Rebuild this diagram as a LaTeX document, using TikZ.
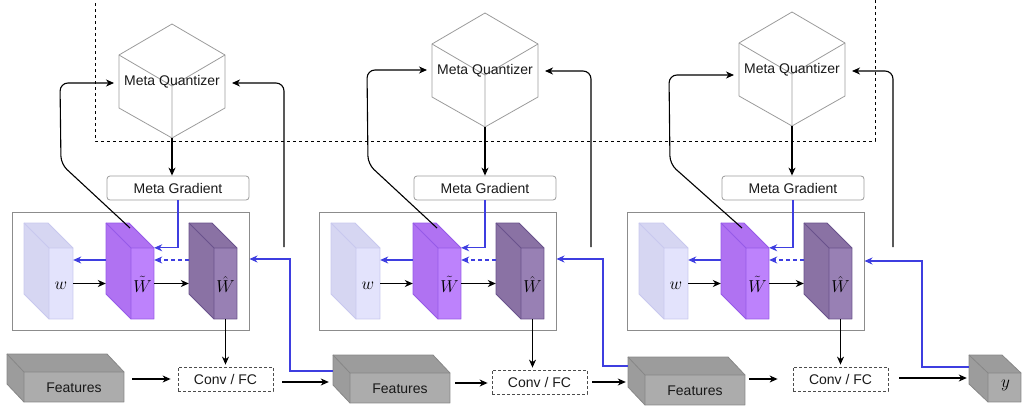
\documentclass[tikz,border=0pt]{standalone}
\usepackage{fontspec}
\setmainfont{Liberation Sans}
\usetikzlibrary{arrows.meta,calc}
\definecolor{wF}{RGB}{227,227,252}
\definecolor{wS}{RGB}{214,214,242}
\definecolor{wB}{RGB}{200,200,238}
\definecolor{wtF}{RGB}{189,130,252}
\definecolor{wtS}{RGB}{176,114,242}
\definecolor{wtB}{RGB}{150,90,232}
\definecolor{whF}{RGB}{152,128,180}
\definecolor{whS}{RGB}{138,114,164}
\definecolor{whB}{RGB}{105,82,140}
\definecolor{feF}{RGB}{172,172,172}
\definecolor{feS}{RGB}{156,156,156}
\definecolor{feB}{RGB}{135,135,135}
\definecolor{myblue}{RGB}{62,62,224}
\definecolor{boxgray}{RGB}{140,140,140}
\definecolor{cubegray}{RGB}{155,155,155}
\newcommand\blockshape[8]{%
  \fill[#8S] (#2-#6,#3-#7) -- (#2+#4-#6,#3-#7) -- (#2+#4,#3) -- (#2,#3) -- (#2,#3+#5) -- (#2-#6,#3+#5-#7) -- cycle;
  \fill[#8F] (#2,#3) rectangle (#2+#4,#3+#5);
  \draw[#8B, line width=0.8pt, line join=round] (#2-#6,#3-#7) -- (#2+#4-#6,#3-#7) -- (#2+#4,#3) -- (#2+#4,#3+#5) -- (#2,#3+#5) -- (#2-#6,#3+#5-#7) -- cycle;
  \draw[#8B, line width=0.8pt] (#2-#6,#3-#7) -- (#2,#3) -- (#2+#4,#3) (#2,#3) -- (#2,#3+#5);
  \node[inner sep=0, minimum width=#4, minimum height=#5] (#1) at (#2+#4/2,#3+#5/2) {};
  \node[inner sep=0, minimum width=#4+#6, minimum height=#5+#7] (#1-s) at (#2+#4/2-#6/2,#3+#5/2-#7/2) {};
}
\newcommand\mqcube[3]{%
  \draw[cubeline] (#2,#3) -- (#2+53,#3+31) -- (#2+53,#3+84) -- (#2,#3+114) -- (#2-53,#3+84) -- (#2-53,#3+31) -- cycle;
  \draw[cubeline] (#2-53,#3+31) -- (#2,#3+62) -- (#2+53,#3+31) (#2,#3+62) -- (#2,#3+114);
  \node[txt, inner sep=0, minimum width=106, minimum height=114] (#1) at (#2,#3+57) {};
  \node[txt, inner sep=0] (#1-t) at (#2,#3+58) {Meta Quantizer};
}
\tikzset{
  txt/.style={font=\fontsize{14}{16}\selectfont, text=black!90},
  mathlab/.style={font=\fontsize{17}{19}\selectfont, inner sep=0},
  cubeline/.style={draw=cubegray, line width=0.8pt, line join=round},
  bigbox/.style={draw=boxgray, line width=1pt, inner sep=0},
  mgbox/.style={txt, draw=cubegray, line width=0.8pt, rounded corners=3pt, minimum width=142, minimum height=24, inner sep=0},
  convbox/.style={txt, draw=black!70, dash pattern=on 3pt off 2pt, line width=0.8pt, minimum width=95, minimum height=24, inner sep=0},
  arr/.style={-{Stealth[length=8pt,width=7pt,inset=2.5pt]}, line width=1.1pt, black},
  barr/.style={-{Stealth[length=8pt,width=7pt,inset=2.5pt]}, line width=1.1pt, myblue},
}
\begin{document}
\begin{tikzpicture}[x=1pt,y=-1pt]
\useasboundingbox (0,0) rectangle (1023,410);
% dashed meta region
\draw[black, line width=0.9pt, dash pattern=on 3pt off 3pt] (95,-3) -- (95,141) -- (875,141) -- (875,-3);
\coordinate (lvB) at (0,260);
% conv boxes
\node[convbox] (c1) at (225.5,379) {Conv / FC};
\node[convbox] (c2) at (539.5,382) {Conv / FC};
\node[convbox] (c3) at (840.5,379) {Conv / FC};
\foreach \i/\bx/\cx/\ct/\ly/\ry/\lx/\rx/\sx in {1/12/172/24/83/83/60/284/130, 2/319/485/13/70/71/367/591/437, 3/627/792/12/75/71/669/893/742}{
  \node[bigbox, minimum width=237, minimum height=118] (box\i) at (\bx+118.5,271) {};
  \node[mgbox] (mg\i) at (\bx+166,188) {Meta Gradient};
  \mqcube{mq\i}{\cx}{\ct}
  \blockshape{w\i}{\bx+37}{248}{24}{71}{25}{25}{w}
  \blockshape{wt\i}{\bx+119}{248}{23}{71}{25}{25}{wt}
  \blockshape{wh\i}{\bx+202}{248}{23}{71}{25}{25}{wh}
  \node[mathlab] at ($(w\i)+(0,2)$) {$w$};
  \node[mathlab] at ($(wt\i)+(0,1)$) {$\tilde{W}$};
  \node[mathlab] at ($(wh\i)+(0,1)$) {$\hat{W}$};
  % inner arrows
  \draw[arr] (w\i.east) -- (wt\i-s.west |- w\i.east);
  \draw[arr] (wt\i.east) -- (wh\i-s.west |- wt\i.east);
  \draw[barr] (wt\i-s.west |- lvB) -- (w\i.east |- lvB);
  \draw[barr, dash pattern=on 4pt off 3pt] (wh\i-s.west |- lvB) -- (wt\i.east |- lvB);
  \draw[barr] (mg\i.south) -- (mg\i.south |- wt\i.north) -- (wt\i.north east);
  % cube to gradient
  \draw[arr] (mq\i.south) -- (mq\i.south |- mg\i.north);
  % loops
  \coordinate (mq\i-lin) at (\cx-58,\ly);
  \coordinate (mq\i-rin) at (\cx+60,\ry);
  \coordinate (wt\i-top) at (\sx,228);
  \coordinate (lp\i) at (\rx,247);
  \draw[arr, rounded corners=8pt] (wt\i-top) -- (\lx+1,164) -- (\lx,\ly) -- (mq\i-lin);
  \draw[arr, rounded corners=8pt] (lp\i) -- (\rx,\ry) -- (mq\i-rin);
  % to conv
  \draw[arr] (wh\i.south) -- ($(c\i.north -| wh\i.south)+(0,-2)$);
}
% features
\blockshape{fe1}{24}{372}{100}{30}{17}{18}{fe}
\blockshape{fe2}{350}{373}{100}{30}{17}{18}{fe}
\blockshape{fe3}{645}{375}{100}{30}{17}{18}{fe}
\blockshape{yb}{988}{373}{33}{29}{19}{18}{fe}
\node[txt] at ($(fe1)+(0,1)$) {Features};
\node[txt] at ($(fe2)+(0,1)$) {Features};
\node[txt] at ($(fe3)+(0,1)$) {Features};
\node[mathlab] at ($(yb)+(1,-2)$) {$y$};
% bottom flow
\draw[arr] ($(fe1.east |- c1)+(8,0)$) -- ($(c1.west)+(-7,0)$);
\draw[arr] ($(c1.east |- 0,382)+(9,0)$) -- ($(fe2-s.west |- 0,382)+(-4,0)$);
\draw[arr] ($(fe2.east |- 0,383)+(5,0)$) -- ($(c2.west |- 0,383)+(-4,0)$);
\draw[arr] ($(c2.east |- 0,382)+(5,0)$) -- ($(fe3-s.west |- 0,382)+(-2,0)$);
\draw[arr] ($(fe3.east |- 0,379)+(4,0)$) -- ($(c3.west |- 0,379)+(-15,0)$);
\draw[arr] ($(c3.east |- 0,378)+(11,0)$) -- ($(yb-s.west |- 0,378)+(-2,0)$);
% blue feedback
\draw[barr] (fe2-s.west |- 0,371) -- (290,371) -- (290,259) -- (box1.east |- 0,259);
\draw[barr] (fe3-s.west |- 0,366) -- (603,366) -- (603,259) -- (box2.east |- 0,259);
\draw[barr] (yb-s.west |- 0,367) -- (922,367) -- (922,261) -- (box3.east |- 0,261);
\end{tikzpicture}
\end{document}
